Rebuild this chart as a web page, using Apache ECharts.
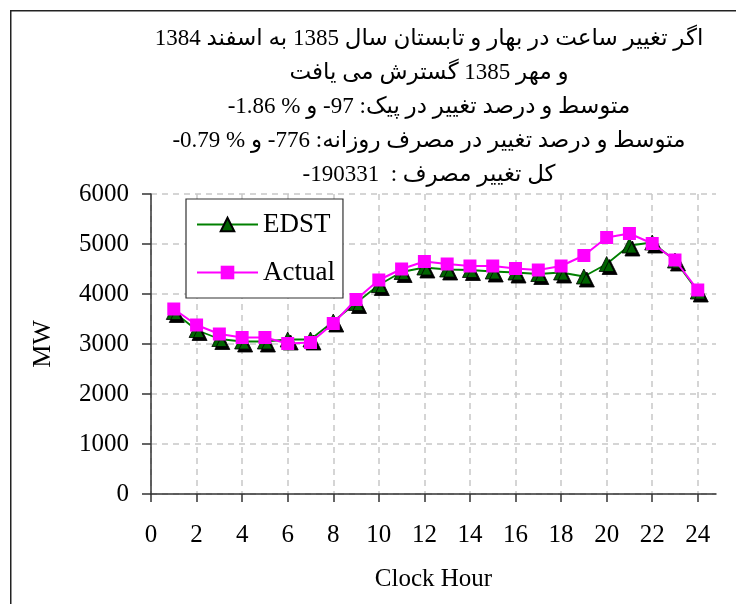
<!DOCTYPE html>
<html><head><meta charset="utf-8">
<script src="https://cdn.jsdelivr.net/npm/echarts@6/dist/echarts.min.js"></script>
<style>html,body{margin:0;padding:0;background:#fff}#c{width:736px;height:604px}</style>
</head><body><div id="c" dir="rtl"></div>
<script>
const hours = [1,2,3,4,5,6,7,8,9,10,11,12,13,14,15,16,17,18,19,20,21,22,23,24];
const edst = [3640,3280,3100,3050,3050,3090,3090,3450,3820,4180,4440,4530,4490,4480,4450,4430,4400,4430,4350,4600,4970,5030,4670,4050];
const actual = [3700,3380,3200,3130,3130,3010,3030,3410,3890,4280,4500,4650,4600,4560,4560,4510,4480,4560,4770,5130,5210,5010,4680,4080];
const xTicks = [0,2,4,6,8,10,12,14,16,18,20,22,24];
const titleLines = [
  'اگر تغییر ساعت در بهار و تابستان سال 1385 به اسفند 1384',
  'و مهر 1385 گسترش می یافت',
  'متوسط و درصد تغییر در پیک: \u200E-97\u200E و \u200E-1.86 %\u200E',
  'متوسط و درصد تغییر در مصرف روزانه: \u200E-776\u200E و \u200E-0.79 %\u200E',
  'کل تغییر مصرف :  \u200E-190331\u200E'
];

const serif = "'Liberation Serif', 'Times New Roman', serif";
const chart = echarts.init(document.getElementById('c'), null, {renderer: 'canvas'});
const gridDash = {color: '#c8c8c8', type: [6, 5], width: 1.5};
chart.setOption({
  backgroundColor: '#fff',
  animation: false,
  graphic: [{
    type: 'rect', left: 10, top: 10, z: -10,
    shape: {x: 0, y: 0, width: 760, height: 700},
    style: {fill: '#fff', stroke: '#222', lineWidth: 1.5}
  }],
  title: {
    text: titleLines.join('\n'),
    left: 429, top: 22, textAlign: 'center', padding: 0,
    textStyle: {fontFamily: "'Liberation Serif', 'DejaVu Sans', serif", fontSize: 23, fontWeight: 'normal', color: '#000', lineHeight: 34}
  },
  legend: {
    orient: 'vertical', left: 186, top: 199,
    padding: [10, 8, 10, 10], itemGap: 17,
    itemWidth: 61, itemHeight: 17,
    backgroundColor: '#fff', borderColor: '#333', borderWidth: 1.2,
    textStyle: {fontFamily: serif, fontSize: 27, color: '#000', lineHeight: 31},
    data: ['EDST', 'Actual']
  },
  grid: {left: 151, top: 194, right: 20, bottom: 110, containLabel: false},
  xAxis: {
    type: 'value', min: 0, max: 24.8, interval: 2,
    name: 'Clock Hour', nameLocation: 'middle', nameGap: 73,
    nameTextStyle: {fontFamily: serif, fontSize: 25, color: '#000'},
    axisLine: {lineStyle: {color: '#333', width: 1.5}},
    axisTick: {show: true, length: 8, inside: false, customValues: xTicks, lineStyle: {color: '#333', width: 1.5}},
    axisLabel: {customValues: xTicks, margin: 29, fontFamily: serif, fontSize: 25, color: '#000'},
    splitLine: {show: true, lineStyle: gridDash}
  },
  yAxis: {
    type: 'value', min: 0, max: 6000, interval: 1000,
    name: 'MW', nameLocation: 'middle', nameGap: 95, nameRotate: 90,
    nameTextStyle: {fontFamily: serif, fontSize: 26, color: '#000'},
    axisLine: {show: true, lineStyle: {color: '#333', width: 1.5}},
    axisTick: {show: true, length: 9, inside: false, lineStyle: {color: '#333', width: 1.5}},
    axisLabel: {margin: 22, fontFamily: serif, fontSize: 25, color: '#000', formatter: v => String(v)},
    splitLine: {show: true, lineStyle: gridDash}
  },
  series: [{
    name: 'EDST', type: 'line',
    data: hours.map((h, i) => [h, edst[i]]),
    symbol: 'triangle', symbolSize: 15,
    lineStyle: {color: '#008000', width: 1.8},
    itemStyle: {color: '#006400', borderColor: '#000', borderWidth: 0.8,
      shadowColor: '#000', shadowOffsetX: 3, shadowOffsetY: 3, shadowBlur: 0},
    z: 2
  }, {
    name: 'Actual', type: 'line',
    data: hours.map((h, i) => [h, actual[i]]),
    symbol: 'rect', symbolSize: 13,
    lineStyle: {color: '#ff00ff', width: 2},
    itemStyle: {color: '#ff00ff'},
    z: 3
  }]
});
</script></body></html>
